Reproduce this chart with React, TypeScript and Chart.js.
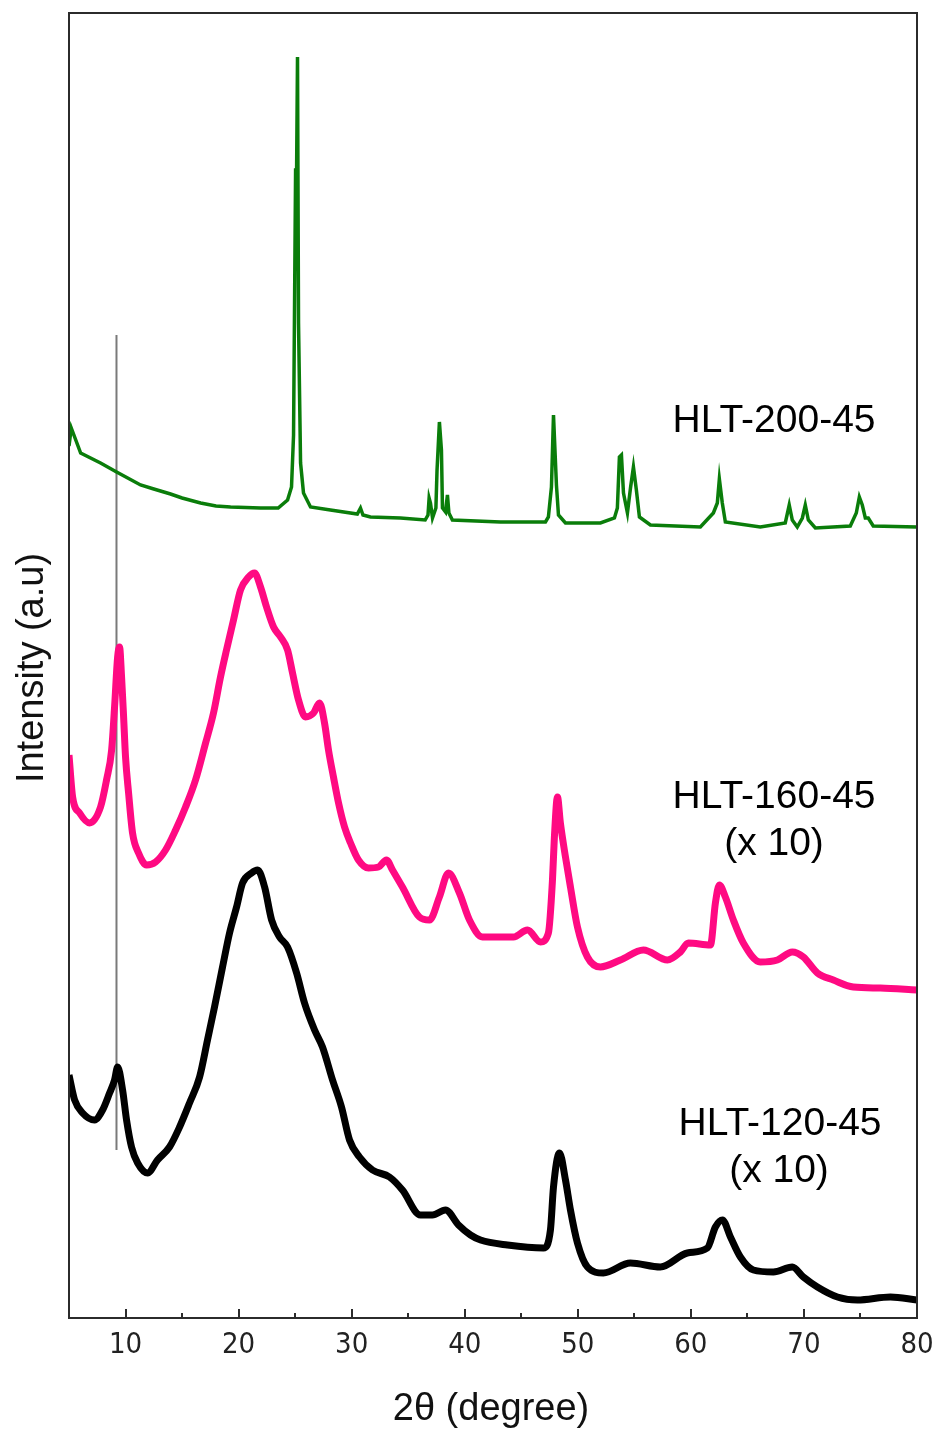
import React, { useEffect, useRef } from "react";
import { Chart, registerables } from "chart.js";

Chart.register(...registerables);

// ---- axis ticks ----
const xMajorTicks = [10, 20, 30, 40, 50, 60, 70, 80];
const xMinorTicks = [15, 25, 35, 45, 55, 65, 75];

// ---- HLT-200-45 (green) ----
const theta200 = [
  5.0, 5.2, 6.03, 7.79, 9.21, 11.33, 12.5, 13.98, 15.0, 16.64, 18.0, 19.29, 21.94, 23.5, 24.33, 24.68, 24.86,
  25.04, 25.13, 25.21, 25.3, 25.48, 25.74, 26.36, 28.12, 30.5, 30.78, 31.0, 31.66, 34.31, 36.5, 36.75, 36.85,
  36.97, 37.15, 37.45, 37.55, 37.76, 37.94, 38.03, 38.3, 38.47, 38.6, 38.91, 43.16, 47.14, 47.4, 47.67,
  47.85, 48.11, 48.29, 48.91, 52.0, 53.24, 53.5, 53.68, 53.86, 54.04, 54.39, 54.66, 54.92, 55.18, 55.45,
  56.42, 60.84, 61.99, 62.34, 62.52, 62.78, 63.05, 66.14, 68.35, 68.7, 68.97, 69.41, 69.86, 70.12, 70.39,
  71.01, 74.1, 74.63, 74.9, 75.16, 75.43, 75.69, 76.13, 80.0,
];
const int200 = [
  872, 890, 865, 855, 846, 833, 829, 824, 820, 815, 812, 811, 810, 810, 818, 831, 883,
  1148, 1148, 1261, 995, 855, 825, 811, 808, 804, 810, 803, 801, 800, 798, 803, 820,
  815, 800, 810, 848, 896, 868, 810, 806, 823, 805, 798, 796, 796, 801, 831,
  903, 833, 803, 795, 795, 800, 810, 861, 863, 825, 805, 830, 851, 828, 801,
  793, 791, 805, 815, 839, 815, 796, 791, 795, 813, 798, 791, 800, 813, 798,
  790, 792, 805, 821, 813, 800, 800, 792, 791,
];

// ---- HLT-160-45 (x10, pink) ----
const theta160 = [
  5.0, 5.32, 5.94, 6.82, 7.79, 8.32, 8.77, 9.03, 9.3, 9.47, 9.65, 9.83, 10.0, 10.27, 10.62, 11.15, 11.86,
  12.66, 13.54, 14.43, 15.31, 16.19, 17.08, 17.78, 18.4, 18.93, 19.55, 20.17, 20.88, 21.41, 21.94, 22.47,
  23.09, 23.71, 24.33, 24.77, 25.3, 25.92, 26.63, 27.16, 27.6, 27.95, 28.39, 28.84, 29.37, 29.9, 30.6,
  31.49, 32.37, 33.08, 33.61, 34.49, 35.99, 36.88, 37.76, 38.56, 39.53, 40.42, 41.57, 43.16, 44.31, 45.55,
  46.7, 47.4, 47.76, 47.93, 48.2, 48.46, 48.91, 49.35, 49.97, 50.85, 52.0, 53.77, 55.8, 57.93, 59.07,
  59.78, 61.73, 62.17, 62.52, 63.05, 63.76, 64.64, 66.14, 67.65, 68.97, 69.95, 71.19, 72.6, 74.37, 76.76, 80.0,
];
const int160 = [
  563, 521, 505, 495, 511, 538, 568, 611, 661, 671, 641, 601, 561, 525, 485, 465, 453,
  456, 468, 488, 511, 538, 575, 605, 641, 668, 698, 728, 741, 745, 731, 711,
  691, 681, 668, 645, 618, 601, 605, 615, 595, 568, 541, 515, 491, 475, 458,
  450, 451, 458, 448, 431, 401, 398, 421, 445, 425, 398, 381, 381, 381, 388,
  376, 385, 438, 481, 521, 495, 461, 431, 391, 361, 351, 358, 368, 358, 366,
  375, 373, 415, 433, 421, 398, 375, 356, 358, 366, 361, 345, 338, 331, 330, 328,
];

// ---- HLT-120-45 (x10, black) ----
const theta120 = [
  5.0, 5.5, 6.2, 7.26, 7.97, 8.59, 9.03, 9.3, 9.74, 10.09, 10.53, 11.07, 11.95, 12.83, 13.89, 14.78,
  15.66, 16.55, 17.25, 17.87, 18.58, 19.2, 19.82, 20.35, 21.15, 21.68, 22.3, 22.92, 23.62, 24.33, 25.13,
  25.83, 26.72, 27.42, 28.31, 29.1, 29.81, 30.69, 31.84, 33.34, 34.49, 36.08, 37.14, 38.3, 39.45, 40.51,
  41.4, 43.78, 46.97, 47.58, 47.85, 48.38, 48.91, 49.35, 49.97, 50.85, 52.26, 54.65, 57.3, 59.69, 61.46,
  62.17, 62.79, 63.5, 64.38, 65.53, 67.3, 68.97, 69.95, 71.19, 72.96, 74.73, 77.65, 80.0,
];
const int120 = [
  243, 218, 205, 198, 208, 225, 238, 251, 228, 198, 171, 155, 145, 158, 171, 191,
  215, 241, 278, 311, 351, 385, 411, 435, 445, 448, 431, 398, 381, 371, 345,
  315, 288, 271, 238, 211, 178, 161, 148, 141, 128, 103, 103, 108, 93, 83,
  78, 73, 70, 88, 131, 165, 138, 108, 75, 51, 45, 55, 51, 65, 70,
  91, 98, 81, 61, 48, 46, 51, 41, 31, 21, 18, 21, 18,
];

// ---- vertical reference line ----
const markerTheta = [9.2, 9.2];
const markerInt = [168, 983];

const toPoints = (xs: number[], ys: number[]) => xs.map((x, i) => ({ x, y: ys[i] }));

const FONT = "'Liberation Sans', Arial, 'DejaVu Sans', sans-serif";
const TICK_FONT = "'Liberation Sans Narrow', 'DejaVu Sans Condensed', 'Liberation Sans', sans-serif";

const decorPlugin = {
  id: "decor",
  afterDatasetsDraw(chart: any) {
    const { ctx, chartArea, scales } = chart;
    const x = scales.x;
    const { left, right, top, bottom } = chartArea;
    ctx.save();
    // frame
    ctx.strokeStyle = "#2b2b2b";
    ctx.lineWidth = 2;
    ctx.strokeRect(left, top, right - left, bottom - top);
    // ticks
    ctx.lineWidth = 2;
    xMajorTicks.forEach((t) => {
      const px = Math.round(x.getPixelForValue(t));
      ctx.beginPath();
      ctx.moveTo(px, bottom);
      ctx.lineTo(px, bottom - 9);
      ctx.stroke();
    });
    xMinorTicks.forEach((t) => {
      const px = Math.round(x.getPixelForValue(t));
      ctx.beginPath();
      ctx.moveTo(px, bottom);
      ctx.lineTo(px, bottom - 5);
      ctx.stroke();
    });
    // tick labels
    ctx.fillStyle = "#222";
    ctx.font = `29px ${TICK_FONT}`;
    ctx.textAlign = "center";
    ctx.textBaseline = "alphabetic";
    xMajorTicks.forEach((t) => {
      ctx.fillText(String(t), x.getPixelForValue(t), bottom + 35);
    });
    // axis titles
    ctx.fillStyle = "#111";
    ctx.font = `38px ${FONT}`;
    ctx.fillText("2\u03b8 (degree)", 491, 1420);
    ctx.save();
    ctx.translate(33, 668);
    ctx.rotate(-Math.PI / 2);
    ctx.textBaseline = "middle";
    ctx.fillText("Intensity (a.u)", 0, 0);
    ctx.restore();
    // series labels
    ctx.font = `39px ${FONT}`;
    ctx.fillStyle = "#000";
    ctx.fillText("HLT-200-45", 774, 432);
    ctx.fillText("HLT-160-45", 774, 808);
    ctx.fillText("(x 10)", 774, 855);
    ctx.fillText("HLT-120-45", 780, 1135);
    ctx.fillText("(x 10)", 779, 1182);
    ctx.restore();
  },
};

export default function App() {
  const ref = useRef<HTMLCanvasElement | null>(null);
  useEffect(() => {
    if (!ref.current) return;
    const chart = new Chart(ref.current, {
      type: "line",
      data: {
        datasets: [
          {
            label: "HLT-120-45 (x 10)",
            data: toPoints(theta120, int120),
            borderColor: "#000000",
            borderWidth: 7,
            pointRadius: 0,
            cubicInterpolationMode: "monotone",
          },
          {
            label: "HLT-160-45 (x 10)",
            data: toPoints(theta160, int160),
            borderColor: "#ff0a82",
            borderWidth: 7,
            pointRadius: 0,
            cubicInterpolationMode: "monotone",
          },
          {
            label: "HLT-200-45",
            data: toPoints(theta200, int200),
            borderColor: "#0a7d0a",
            borderWidth: 3.5,
            pointRadius: 0,
            tension: 0,
          },
          {
            label: "marker",
            data: toPoints(markerTheta, markerInt),
            borderColor: "#7a7a7a",
            borderWidth: 2,
            pointRadius: 0,
            tension: 0,
          },
        ],
      },
      options: {
        responsive: false,
        animation: false,
        devicePixelRatio: 1,
        layout: { padding: { left: 69, right: 18, top: 13, bottom: 112 } },
        plugins: { legend: { display: false }, tooltip: { enabled: false } },
        scales: {
          x: { type: "linear", min: 5, max: 80, display: false },
          y: { type: "linear", min: 0, max: 1305, display: false },
        },
      },
      plugins: [decorPlugin],
    });
    return () => chart.destroy();
  }, []);
  return (
    <div style={{ position: "absolute", left: 0, top: 0, width: 935, height: 1430, background: "#fff" }}>
      <canvas ref={ref} width={935} height={1430} style={{ width: 935, height: 1430, display: "block" }} />
    </div>
  );
}
